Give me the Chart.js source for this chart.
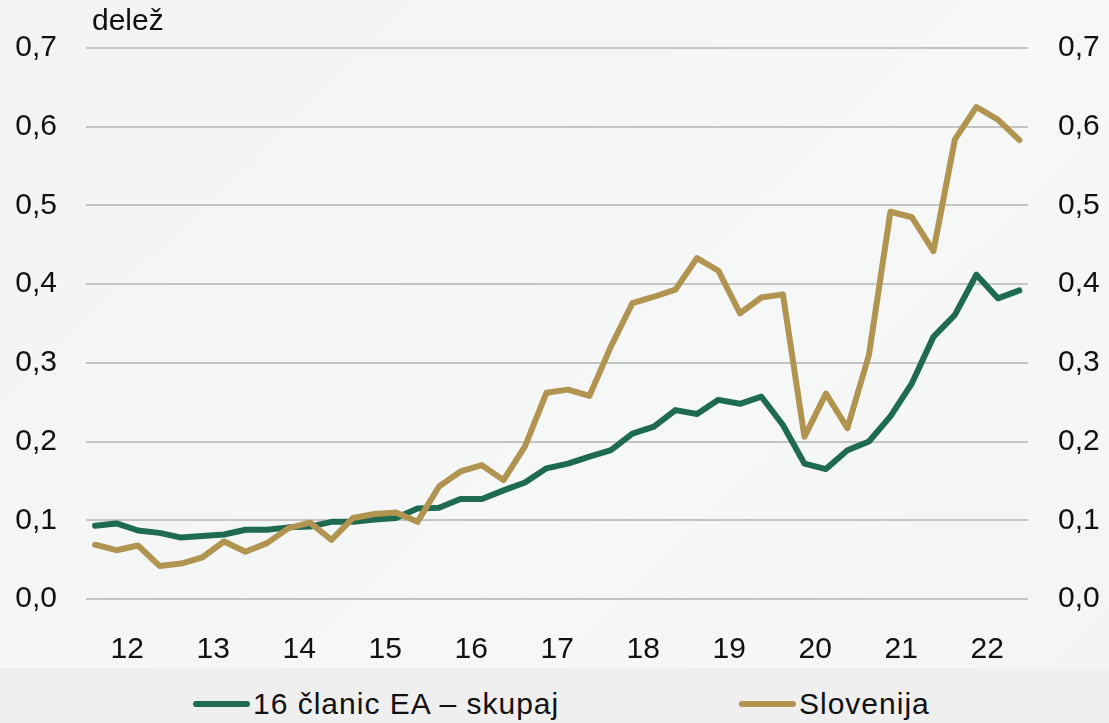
<!DOCTYPE html>
<html>
<head>
<meta charset="utf-8">
<script src="https://cdn.jsdelivr.net/npm/chart.js@4"></script>
<style>
  html, body { margin: 0; padding: 0; }
  body {
    width: 1109px; height: 723px; overflow: hidden; position: relative;
    background: linear-gradient(135deg, #f2f3f3 0%, #f6f7f7 60%, #f3f4f4 100%);
    font-family: "Liberation Sans", Arial, sans-serif;
  }
  #wrap { position: absolute; left: 0; top: 0; width: 1109px; height: 668px; }
  #legend {
    position: absolute; left: 0; top: 668px; width: 1109px; height: 55px;
    background: #eeefee;
  }
  .item { position: absolute; top: 8px; height: 55px; display: flex; align-items: center; font-size: 30px; color: #111; letter-spacing: 1px; }
  .swatch { width: 57px; height: 6px; border-radius: 3px; margin-right: 3px; }
</style>
</head>
<body>
<div id="wrap"><canvas id="chart"></canvas></div>
<div id="legend">
  <div class="item" style="left:193px"><span class="swatch" style="background:#1e6b52"></span><span id="lg0"></span></div>
  <div class="item" style="left:739px"><span class="swatch" style="background:#b1944f"></span><span id="lg1"></span></div>
</div>
<script>
// quarterly data, 2012 Q1 - 2022 Q4
const seriesNames = ['16 članic EA – skupaj', 'Slovenija'];
const yearLabels = ['12', '13', '14', '15', '16', '17', '18', '19', '20', '21', '22'];
const yTicks = [0, 0.1, 0.2, 0.3, 0.4, 0.5, 0.6, 0.7];

const eaTotal = [
    0.093, 0.096, 0.087, 0.084, 0.078, 0.080, 0.082, 0.088, 0.088, 0.091,
    0.092, 0.098, 0.098, 0.101, 0.103, 0.115, 0.116, 0.127, 0.127, 0.138,
    0.148, 0.166, 0.172, 0.181, 0.189, 0.210, 0.219, 0.240, 0.235, 0.253,
    0.248, 0.257, 0.221, 0.172, 0.165, 0.189, 0.200, 0.232, 0.274, 0.333,
    0.361, 0.412, 0.382, 0.392
];
const slovenia = [
    0.069, 0.062, 0.068, 0.042, 0.045, 0.053, 0.073, 0.060, 0.071, 0.090,
    0.097, 0.075, 0.103, 0.108, 0.110, 0.098, 0.143, 0.162, 0.170, 0.151,
    0.194, 0.262, 0.266, 0.258, 0.321, 0.376, 0.384, 0.393, 0.433, 0.417,
    0.363, 0.383, 0.387, 0.206, 0.261, 0.217, 0.310, 0.492, 0.485, 0.442,
    0.584, 0.625, 0.609, 0.583
];

document.getElementById('lg0').textContent = seriesNames[0];
document.getElementById('lg1').textContent = seriesNames[1];

const toPoints = arr => arr.map((v, i) => ({ x: i, y: v }));
const fmt = v => v.toFixed(1).replace('.', ',');

Chart.defaults.font.family = '"Liberation Sans", Arial, sans-serif';
Chart.defaults.font.size = 30;
Chart.defaults.color = '#111';

// small plugin for the "delež" label above the left axis
const unitLabel = {
    id: 'unitLabel',
    afterDraw(chart) {
        const ctx = chart.ctx;
        ctx.save();
        ctx.font = '30px "Liberation Sans", Arial, sans-serif';
        ctx.fillStyle = '#111';
        ctx.textBaseline = 'middle';
        ctx.fillText('delež', 92, 22);
        ctx.restore();
    }
};

const yAxis = (pos, pad, width, grid) => ({
    type: 'linear',
    position: pos,
    min: 0,
    max: 0.7,
    afterBuildTicks: axis => { axis.ticks = yTicks.map(v => ({ value: v })); },
    afterFit: axis => { axis.width = width; },
    ticks: { padding: pad, callback: v => fmt(v) },
    grid: { display: grid, drawTicks: false, color: '#c4c4c4', lineWidth: 2 },
    border: { display: false }
});

new Chart(document.getElementById('chart'), {
    type: 'line',
    data: {
        datasets: [
            {
                label: seriesNames[0],
                data: toPoints(eaTotal),
                borderColor: '#1e6b52',
                borderWidth: 6,
                pointRadius: 0,
                borderJoinStyle: 'round',
                borderCapStyle: 'round',
                order: 1,
                yAxisID: 'y'
            },
            {
                label: seriesNames[1],
                data: toPoints(slovenia),
                borderColor: '#b1944f',
                borderWidth: 6,
                pointRadius: 0,
                borderJoinStyle: 'round',
                borderCapStyle: 'round',
                order: 0,
                yAxisID: 'y'
            }
        ]
    },
    options: {
        responsive: true,
        maintainAspectRatio: false,
        animation: false,
        layout: { padding: { top: 48, left: 0, right: 0, bottom: 0 } },
        plugins: {
            legend: { display: false },
            tooltip: { enabled: false }
        },
        scales: {
            x: {
                type: 'linear',
                min: -0.42,
                max: 43.4,
                afterBuildTicks: axis => {
                    axis.ticks = yearLabels.map((_, i) => ({ value: 1.5 + i * 4 }));
                },
                afterFit: axis => { axis.height = 69; },
                ticks: {
                    padding: 33,
                    maxRotation: 0,
                    autoSkip: false,
                    callback: (v, i) => yearLabels[i]
                },
                grid: { display: false, drawTicks: false },
                border: { display: false }
            },
            y: yAxis('left', 29, 86, true),
            y2: yAxis('right', 30, 81, false)
        }
    },
    plugins: [unitLabel]
});
</script>
</body>
</html>
